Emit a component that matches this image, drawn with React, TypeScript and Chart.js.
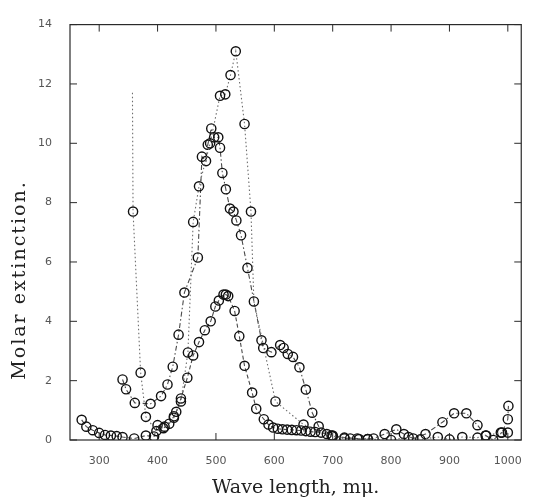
import React, { useEffect, useRef } from "react";
import { Chart, registerables } from "chart.js";

Chart.register(...registerables);

const xTickValues = [300, 400, 500, 600, 700, 800, 900, 1000];
const yTickValues = [0, 2, 4, 6, 8, 10, 12, 14];
const xTitle = "Wave length, m\u03bc.";
const yTitle = "Molar extinction.";

// Series A: tall sharp peak (dotted line)
const seriesAWave = [357, 358, 371, 380, 398, 412, 428, 440, 452, 461, 471, 490, 507, 516, 525, 534, 549, 560, 565, 602, 650, 700, 730, 760, 800, 830, 850, 880, 900, 922, 948, 963, 988, 1000];
const seriesAValue = [11.7, 7.7, 2.27, 0.78, 0.3, 0.45, 0.75, 1.3, 2.95, 7.35, 8.55, 10.0, 11.6, 11.65, 12.3, 13.1, 10.65, 7.7, 4.67, 1.3, 0.52, 0.12, 0.05, 0.03, 0.0, 0.1, 0.02, 0.1, 0.02, 0.1, 0.08, 0.15, 0.25, 0.25];

// Series B: peak near 500 with shoulder near 620 and band near 920 (dash-dot line)
const seriesBWave = [340, 346, 361, 388, 406, 417, 426, 436, 446, 469, 476, 483, 486, 492, 497, 504, 507, 511, 517, 524, 530, 535, 543, 554, 578, 581, 595, 610, 616, 623, 632, 643, 654, 665, 676, 698, 720, 745, 770, 789, 809, 822, 838, 859, 888, 908, 929, 948, 962, 975, 990, 1000, 1001];
const seriesBValue = [2.04, 1.71, 1.25, 1.22, 1.48, 1.87, 2.47, 3.55, 4.97, 6.15, 9.55, 9.4, 9.95, 10.5, 10.2, 10.2, 9.85, 9.0, 8.45, 7.8, 7.7, 7.4, 6.9, 5.8, 3.36, 3.1, 2.96, 3.2, 3.1, 2.9, 2.8, 2.45, 1.7, 0.92, 0.46, 0.15, 0.05, 0.03, 0.05, 0.2, 0.36, 0.2, 0.05, 0.2, 0.6, 0.9, 0.9, 0.5, 0.15, 0.0, 0.25, 0.7, 1.15];

// Series C: low peak near 515 (dashed line)
const seriesCWave = [270, 278, 289, 300, 310, 320, 330, 340, 360, 380, 394, 400, 410, 420, 428, 432, 440, 451, 461, 471, 481, 491, 499, 505, 513, 517, 521, 532, 540, 549, 562, 569, 582, 590, 598, 606, 614, 622, 630, 638, 646, 654, 662, 670, 680, 690, 700, 720, 742, 760];
const seriesCValue = [0.68, 0.45, 0.33, 0.24, 0.17, 0.15, 0.13, 0.1, 0.05, 0.15, 0.12, 0.5, 0.4, 0.55, 0.8, 0.95, 1.4, 2.1, 2.85, 3.3, 3.7, 4.0, 4.5, 4.7, 4.9, 4.9, 4.85, 4.35, 3.5, 2.5, 1.6, 1.05, 0.7, 0.52, 0.42, 0.38, 0.36, 0.35, 0.34, 0.33, 0.32, 0.3, 0.28, 0.27, 0.25, 0.2, 0.15, 0.08, 0.05, 0.03];

const toPoints = (w: number[], v: number[]) => w.map((x, i) => ({ x, y: v[i] }));

const framePlugin = {
  id: "frameTicks",
  afterDraw(chart: any) {
    const { ctx, chartArea } = chart;
    const { left, right, top, bottom } = chartArea;
    const xs = chart.scales.x;
    const ys = chart.scales.y;
    ctx.save();
    ctx.strokeStyle = "#2a2a2a";
    ctx.lineWidth = 1.2;
    ctx.strokeRect(left, top, right - left, bottom - top);
    ctx.lineWidth = 1;
    const L = 7;
    const seg = (x1: number, y1: number, x2: number, y2: number) => {
      ctx.beginPath();
      ctx.moveTo(x1, y1);
      ctx.lineTo(x2, y2);
      ctx.stroke();
    };
    for (const v of xTickValues) {
      const px = xs.getPixelForValue(v);
      seg(px, bottom, px, bottom - L);
      seg(px, top, px, top + L);
    }
    for (const v of yTickValues) {
      const py = ys.getPixelForValue(v);
      seg(left, py, left + L, py);
      seg(right, py, right - L, py);
    }
    ctx.translate(20, 280);
    ctx.rotate(-Math.PI / 2);
    ctx.font = '19px "DejaVu Serif"';
    try { (ctx as any).letterSpacing = "2px"; } catch (e) {}
    ctx.textAlign = "center";
    ctx.textBaseline = "middle";
    ctx.fillStyle = "#222";
    ctx.fillText(yTitle, 0, 0);
    ctx.restore();
  },
};

export default function App() {
  const ref = useRef<HTMLCanvasElement | null>(null);
  useEffect(() => {
    if (!ref.current) return;
    const marker = {
      pointRadius: 4.6,
      pointBorderColor: "#111",
      pointBackgroundColor: "rgba(255,255,255,0)",
      pointBorderWidth: 1.4,
      borderWidth: 1.1,
      tension: 0,
      fill: false,
    };
    const chart = new Chart(ref.current, {
      type: "line",
      data: {
        datasets: [
          {
            ...marker,
            label: "A",
            data: toPoints(seriesAWave, seriesAValue),
            borderColor: "#6e6e6e",
            borderDash: [1.5, 2.5],
            pointRadius: seriesAWave.map((_, i) => (i === 0 ? 0 : 4.6)),
          },
          {
            ...marker,
            label: "B",
            data: toPoints(seriesBWave, seriesBValue),
            borderColor: "#4a4a4a",
            borderDash: [5, 2.5, 1.5, 2.5],
          },
          {
            ...marker,
            label: "C",
            data: toPoints(seriesCWave, seriesCValue),
            borderColor: "#4a4a4a",
            borderDash: [4, 2.5],
          },
        ],
      },
      options: {
        responsive: false,
        animation: false,
        layout: { padding: { top: 14, right: 1, left: 0, bottom: 0 } },
        plugins: { legend: { display: false }, tooltip: { enabled: false } },
        scales: {
          x: {
            type: "linear",
            min: 250,
            max: 1023,
            grid: { display: false, drawTicks: false },
            border: { display: false },
            afterBuildTicks: (scale: any) => {
              scale.ticks = xTickValues.map((value) => ({ value }));
            },
            afterFit: (scale: any) => {
              scale.height = 62;
            },
            ticks: {
              padding: 15,
              color: "#555",
              font: { family: "DejaVu Sans", size: 11 },
              maxRotation: 0,
              autoSkip: false,
              callback: (value: any) => String(value),
            },
            title: {
              display: true,
              text: xTitle,
              color: "#222",
              font: { family: "DejaVu Serif", size: 19, weight: "normal" },
              padding: { top: 0, bottom: 3 },
            },
          },
          y: {
            type: "linear",
            min: 0,
            max: 14,
            grid: { display: false, drawTicks: false },
            border: { display: false },
            afterFit: (scale: any) => {
              scale.width = 70;
            },
            ticks: {
              stepSize: 2,
              padding: 18,
              color: "#555",
              font: { family: "DejaVu Sans", size: 11 },
              callback: (value: any) => String(value),
            },
          },
        },
      },
      plugins: [framePlugin],
    });
    return () => chart.destroy();
  }, []);
  return (
    <div style={{ position: "fixed", left: 0, top: 0, width: 537, height: 502, background: "#fff" }}>
      <canvas ref={ref} width={537} height={502} />
    </div>
  );
}
